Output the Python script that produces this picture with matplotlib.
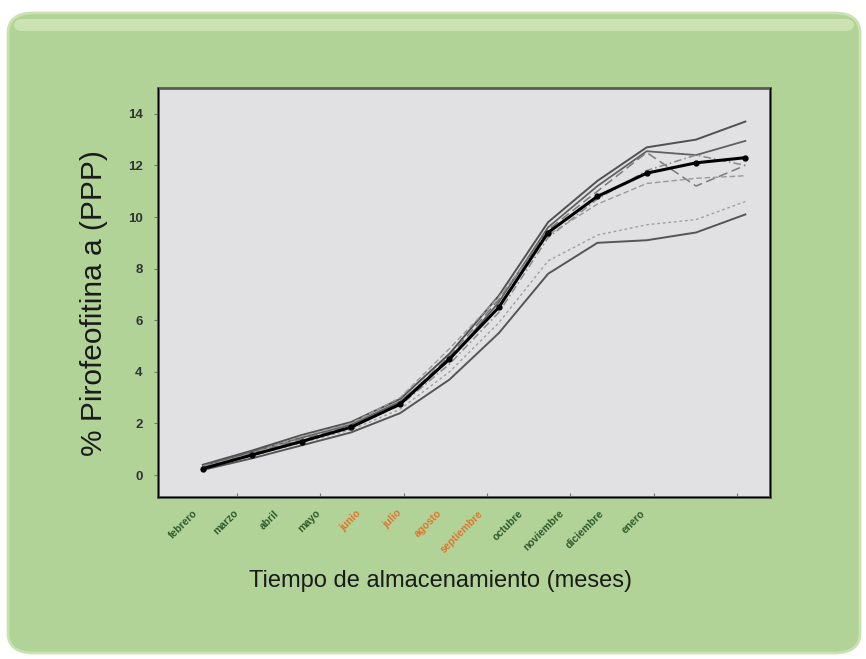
import numpy as np
import matplotlib
matplotlib.use("Agg")
import matplotlib.pyplot as plt
from matplotlib.patches import FancyBboxPatch

plt.rcParams["font.family"] = ["Liberation Sans", "DejaVu Sans"]

months = ["febrero", "marzo", "abril", "mayo", "junio", "julio", "agosto",
          "septiembre", "octubre", "noviembre", "diciembre", "enero"]
highlight = ["junio", "julio", "agosto", "septiembre"]

mean_vals = [0.25, 0.78, 1.3, 1.85, 2.75, 4.5, 6.5, 9.4, 10.8, 11.7, 12.1, 12.3]

gray_series = [
    [0.40, 0.95, 1.55, 2.05, 2.95, 4.70, 6.95, 9.80, 11.40, 12.70, 13.00, 13.70],
    [0.35, 0.90, 1.45, 1.95, 2.85, 4.45, 6.70, 9.60, 11.20, 12.55, 12.40, 12.95],
    [0.30, 0.85, 1.40, 1.90, 2.80, 4.60, 6.80, 9.50, 11.00, 12.50, 11.20, 12.00],
    [0.35, 0.80, 1.35, 1.85, 2.70, 4.30, 6.30, 9.20, 10.70, 11.80, 12.40, 12.00],
    [0.20, 0.65, 1.15, 1.65, 2.40, 3.70, 5.50, 7.80, 9.00, 9.10, 9.40, 10.10],
    [0.30, 0.75, 1.25, 1.75, 2.55, 4.00, 5.90, 8.30, 9.30, 9.70, 9.90, 10.60],
    [0.30, 0.85, 1.50, 2.00, 3.00, 4.90, 6.90, 9.30, 10.50, 11.30, 11.50, 11.60],
]
gray_styles = [
    dict(color="#505050", lw=1.4, ls="-"),
    dict(color="#606060", lw=1.3, ls="-"),
    dict(color="#7a7a7a", lw=1.1, ls=(0, (6, 3))),
    dict(color="#8a8a8a", lw=1.1, ls=(0, (5, 2, 1, 2))),
    dict(color="#555555", lw=1.4, ls="-"),
    dict(color="#a0a0a0", lw=1.0, ls=(0, (2, 2))),
    dict(color="#9a9a9a", lw=1.0, ls=(0, (4, 2))),
]

yticks = [0, 2, 4, 6, 8, 10, 12, 14]

fig = plt.figure(figsize=(8.66, 6.59), dpi=100)
fig.patch.set_facecolor("white")

# green rounded panel
W, H = 866, 659
panel = FancyBboxPatch((8 / W, 6 / H), 852 / W, 640 / H,
                       boxstyle="round,pad=0,rounding_size=0.03",
                       transform=fig.transFigure, facecolor="#b2d398",
                       edgecolor="#c9e2b0", lw=2, zorder=-10)
fig.patches.append(panel)
hl = FancyBboxPatch((14 / W, 628 / H), 840 / W, 12 / H,
                    boxstyle="round,pad=0,rounding_size=0.01",
                    transform=fig.transFigure, facecolor="#d3e7bb",
                    edgecolor="none", alpha=0.8, zorder=-9)
fig.patches.append(hl)

ax = fig.add_axes([158 / W, 1 - 497 / H, 612 / W, 409 / H])
ax.set_facecolor("#e1e1e3")
x = np.arange(len(months))

for s, st in zip(gray_series, gray_styles):
    ax.plot(x, s, **st, zorder=2)
ax.plot(x, mean_vals, color="black", lw=2.2, marker="o", ms=3.5, zorder=3)

ax.set_xlim(-0.91, 11.5)
ax.set_ylim(-0.85, 15.0)
ax.set_yticks(yticks)
ax.set_yticklabels([str(v) for v in yticks], fontsize=9.5, fontweight="bold",
                   color="#333333")
ax.tick_params(axis="y", length=3, color="#777777", pad=8)
ax.set_xticks(np.arange(0.69, 11.5, 1.69))
ax.set_xticklabels([])
ax.tick_params(axis="x", length=3, direction="in", color="#777777")
for sp in ax.spines.values():
    sp.set_color("#5a5a5a")
    sp.set_linewidth(2)

# month labels on a helper axis
ax2 = ax.twiny()
ax2.set_xlim(-0.86, 14.2)
ax2.xaxis.set_ticks_position("bottom")
ax2.xaxis.set_label_position("bottom")
ax2.spines["top"].set_visible(False)
ax2.set_xticks(np.arange(len(months)))
ax2.set_xticklabels(months, rotation=45, ha="right", va="top",
                    rotation_mode="anchor", fontsize=7.5, fontweight="bold")
ax2.tick_params(axis="x", length=0, pad=8)
for lab in ax2.get_xticklabels():
    lab.set_color("#e2742f" if lab.get_text() in highlight else "#2e5a2a")

ax.set_ylabel("% Pirofeofitina a (PPP)", fontsize=21.5, color="#1a1a1a")
ax.yaxis.set_label_coords(-0.082, 0.474)
fig.text(440 / W, 1 - 581 / H, "Tiempo de almacenamiento (meses)",
         ha="center", va="center", fontsize=17, color="#1a1a1a")

fig.savefig("out.png", dpi=100)
